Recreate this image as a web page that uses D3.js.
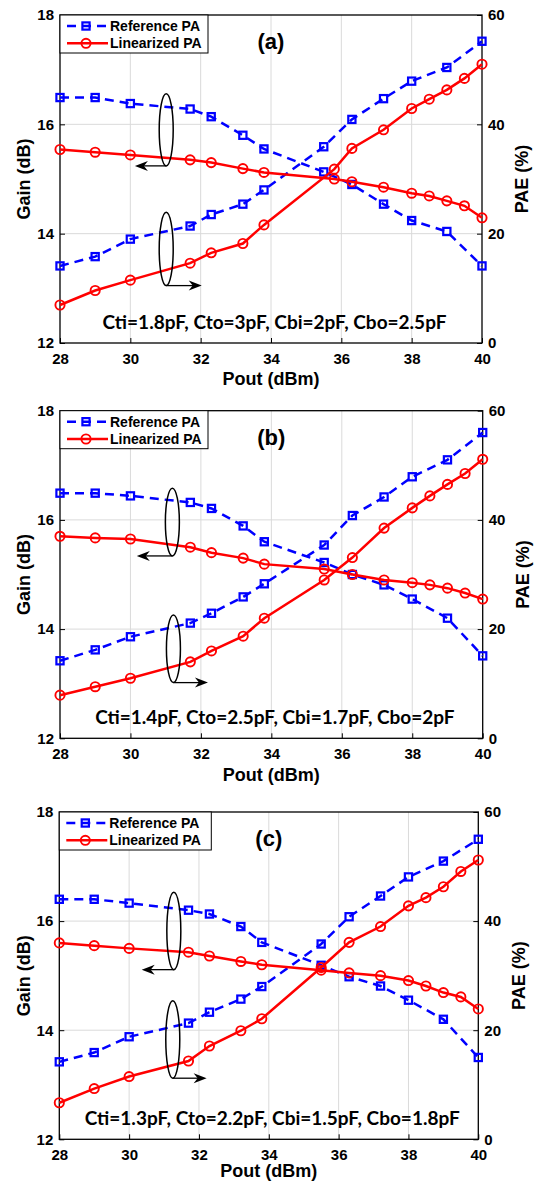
<!DOCTYPE html>
<html>
<head>
<meta charset="utf-8">
<script src="https://cdn.jsdelivr.net/npm/d3@7"></script>
<style>
  body { margin: 0; background: #fff; }
  svg text { font-family: "Liberation Sans", Arial, sans-serif; font-weight: bold; fill: #000; }
  .note { font-family: "Lato", "Open Sans", sans-serif; }
</style>
</head>
<body>
<svg id="chart" width="539" height="1186"></svg>
<script>
// Output power samples (dBm)
const poutRef  = [28, 29, 30, 31.7, 32.3, 33.2, 33.8, 35.5, 36.3, 37.2, 38, 39, 40];
const poutLinA = [28, 29, 30, 31.7, 32.3, 33.2, 33.8, 35.8, 36.3, 37.2, 38, 38.5, 39, 39.5, 40];
const poutLin  = [28, 29, 30, 31.7, 32.3, 33.2, 33.8, 35.5, 36.3, 37.2, 38, 38.5, 39, 39.5, 40];

// Panel (a)
const gainRefA = [16.49, 16.49, 16.38, 16.28, 16.14, 15.80, 15.55, 15.13, 14.90, 14.54, 14.24, 14.04, 13.41];
const paeRefA  = [14.1, 15.8, 19.0, 21.4, 23.5, 25.4, 28.0, 35.9, 40.9, 44.7, 47.9, 50.4, 55.2];
const gainLinA = [15.54, 15.49, 15.44, 15.35, 15.30, 15.19, 15.12, 15.00, 14.95, 14.85, 14.74, 14.69, 14.60, 14.51, 14.29];
const paeLinA  = [6.95, 9.6, 11.5, 14.6, 16.5, 18.2, 21.6, 31.8, 35.6, 39.0, 42.9, 44.6, 46.3, 48.4, 51.0];

// Panel (b)
const gainRefB = [16.49, 16.49, 16.44, 16.32, 16.21, 15.89, 15.60, 15.22, 15.00, 14.81, 14.55, 14.20, 13.51];
const paeRefB  = [14.2, 16.2, 18.6, 21.1, 22.9, 25.9, 28.3, 35.4, 40.8, 44.2, 47.9, 51.0, 56.0];
const gainLinB = [15.70, 15.67, 15.65, 15.50, 15.40, 15.30, 15.19, 15.10, 15.00, 14.90, 14.85, 14.81, 14.75, 14.66, 14.55];
const paeLinB  = [7.9, 9.45, 11.0, 14.0, 16.0, 18.7, 22.0, 29.0, 33.1, 38.5, 42.2, 44.4, 46.5, 48.5, 51.1];

// Panel (c)
const gainRefC = [16.40, 16.40, 16.33, 16.20, 16.13, 15.90, 15.61, 15.19, 14.98, 14.81, 14.55, 14.20, 13.50];
const paeRefC  = [14.2, 15.9, 18.8, 21.3, 23.3, 25.7, 28.0, 35.8, 40.8, 44.6, 48.1, 51.0, 55.0];
const gainLinC = [15.60, 15.55, 15.50, 15.43, 15.36, 15.26, 15.20, 15.10, 15.05, 15.00, 14.91, 14.81, 14.69, 14.61, 14.39];
const paeLinC  = [6.7, 9.3, 11.5, 14.35, 17.1, 19.9, 22.1, 31.5, 36.1, 39.0, 42.8, 44.3, 46.3, 49.1, 51.2];

// Tick values
const xTicks = [28, 30, 32, 34, 36, 38, 40];
const gainTicks = [12, 14, 16, 18];
const paeTicks = [0, 20, 40, 60];

// Text
const panelLabels = ["(a)", "(b)", "(c)"];
const notes = [
  "Cti=1.8pF, Cto=3pF, Cbi=2pF, Cbo=2.5pF",
  "Cti=1.4pF, Cto=2.5pF, Cbi=1.7pF, Cbo=2pF",
  "Cti=1.3pF, Cto=2.2pF, Cbi=1.5pF, Cbo=1.8pF"
];
const seriesNames = ["Reference PA", "Linearized PA"];

// Ellipse annotations [Pout, gain center, gain half-height, arrow tip Pout]
const ellipsesA = [[31.02, 15.90, 0.66, 30.13], [31.02, 13.72, 0.67, 32.03]];
const ellipsesB = [[31.19, 15.96, 0.62, 30.18], [31.22, 13.64, 0.62, 32.20]];
const ellipsesC = [[31.28, 15.82, 0.71, 30.36], [31.25, 13.83, 0.71, 32.22]];

// Layout for each panel (pixels)
const layout = [
  {left: 60,   right: 482,   top: 15,    bottom: 343,    titleGap: 36},
  {left: 60,   right: 482.7, top: 410.7, bottom: 738.3,  titleGap: 36},
  {left: 59.3, right: 478.3, top: 812,   bottom: 1139.3, titleGap: 31}
];

const panels = [
  {pl: poutLinA, gr: gainRefA, pr: paeRefA, gl: gainLinA, plae: paeLinA, ell: ellipsesA},
  {pl: poutLin,  gr: gainRefB, pr: paeRefB, gl: gainLinB, plae: paeLinB, ell: ellipsesB},
  {pl: poutLin,  gr: gainRefC, pr: paeRefC, gl: gainLinC, plae: paeLinC, ell: ellipsesC}
];

const blue = "#0000ff", red = "#ff0000";
const svg = d3.select("#chart");

function drawMarkers(g, pts, type, color) {
  if (type === "square") {
    g.selectAll(null).data(pts).join("rect")
      .attr("x", d => d[0] - 3.6).attr("y", d => d[1] - 3.6)
      .attr("width", 7.2).attr("height", 7.2)
      .attr("fill", "none").attr("stroke", color).attr("stroke-width", 2.2);
  } else {
    g.selectAll(null).data(pts).join("circle")
      .attr("cx", d => d[0]).attr("cy", d => d[1]).attr("r", 4.6)
      .attr("fill", "none").attr("stroke", color).attr("stroke-width", 1.9);
  }
}

panels.forEach((p, i) => {
  const L = layout[i];
  const x = d3.scaleLinear().domain([28, 40]).range([L.left, L.right]);
  const yG = d3.scaleLinear().domain([12, 18]).range([L.bottom, L.top]);
  const yP = d3.scaleLinear().domain([0, 60]).range([L.bottom, L.top]);
  const g = svg.append("g");

  // grid
  g.append("g").selectAll("line").data(xTicks.slice(1, -1)).join("line")
    .attr("x1", d => x(d)).attr("x2", d => x(d))
    .attr("y1", L.top).attr("y2", L.bottom)
    .attr("stroke", "#dadada").attr("stroke-width", 1);
  g.append("g").selectAll("line").data(gainTicks.slice(1, -1)).join("line")
    .attr("x1", L.left).attr("x2", L.right)
    .attr("y1", d => yG(d)).attr("y2", d => yG(d))
    .attr("stroke", "#dadada").attr("stroke-width", 1);

  // axes
  const fmt = d3.format("d");
  const axB = g.append("g").attr("transform", `translate(0,${L.bottom})`)
    .call(d3.axisBottom(x).tickValues(xTicks).tickFormat(fmt).tickSizeInner(-5).tickSizeOuter(0).tickPadding(10));
  const axL = g.append("g").attr("transform", `translate(${L.left},0)`)
    .call(d3.axisLeft(yG).tickValues(gainTicks).tickFormat(fmt).tickSizeInner(-5).tickSizeOuter(0).tickPadding(6));
  const axR = g.append("g").attr("transform", `translate(${L.right},0)`)
    .call(d3.axisRight(yP).tickValues(paeTicks).tickFormat(fmt).tickSizeInner(-5).tickSizeOuter(0).tickPadding(6));
  [axB, axL, axR].forEach(a => {
    a.select(".domain").remove();
    a.selectAll("text").attr("font-size", 15)
      .style("font-family", "Liberation Sans, Arial, sans-serif").style("font-weight", "bold");
    a.selectAll("line").attr("stroke", "#000");
  });

  // frame
  g.append("rect")
    .attr("x", L.left).attr("y", L.top)
    .attr("width", L.right - L.left).attr("height", L.bottom - L.top)
    .attr("fill", "none").attr("stroke", "#000").attr("stroke-width", 1.3);

  // series
  const refGain = d3.zip(poutRef, p.gr).map(d => [x(d[0]), yG(d[1])]);
  const refPae  = d3.zip(poutRef, p.pr).map(d => [x(d[0]), yP(d[1])]);
  const linGain = d3.zip(p.pl, p.gl).map(d => [x(d[0]), yG(d[1])]);
  const linPae  = d3.zip(p.pl, p.plae).map(d => [x(d[0]), yP(d[1])]);
  const line = d3.line();

  [refGain, refPae].forEach(pts => {
    g.append("path").attr("d", line(pts)).attr("fill", "none")
      .attr("stroke", blue).attr("stroke-width", 2.5).attr("stroke-dasharray", "9,6");
    drawMarkers(g, pts, "square", blue);
  });
  [linGain, linPae].forEach(pts => {
    g.append("path").attr("d", line(pts)).attr("fill", "none")
      .attr("stroke", red).attr("stroke-width", 2.5);
    drawMarkers(g, pts, "circle", red);
  });

  // ellipses with arrows
  p.ell.forEach(e => {
    const cx = x(e[0]), cy = yG(e[1]);
    const ry = yG(e[1] - e[2]) - cy;
    const by = cy + ry;
    const tip = x(e[3]);
    const dir = tip < cx ? -1 : 1;
    g.append("ellipse").attr("cx", cx).attr("cy", cy).attr("rx", 7).attr("ry", ry)
      .attr("fill", "none").attr("stroke", "#000").attr("stroke-width", 1.5);
    g.append("line").attr("x1", cx).attr("y1", by).attr("x2", tip - dir * 6).attr("y2", by)
      .attr("stroke", "#000").attr("stroke-width", 1.3);
    g.append("path")
      .attr("d", `M${tip},${by} L${tip - dir * 13},${by - 5} L${tip - dir * 9},${by} L${tip - dir * 13},${by + 5} Z`)
      .attr("fill", "#000");
  });

  // legend
  const lg = g.append("g").attr("transform", `translate(${L.left},${L.top})`);
  lg.append("rect").attr("width", i === 2 ? 152 : 148).attr("height", 38)
    .attr("fill", "#fff").attr("stroke", "#000").attr("stroke-width", 1);
  seriesNames.forEach((name, k) => {
    const ly = k === 0 ? 11 : 28.3;
    const color = k === 0 ? blue : red;
    lg.append("line").attr("x1", 7).attr("x2", 48).attr("y1", ly).attr("y2", ly)
      .attr("stroke", color).attr("stroke-width", 2.5)
      .attr("stroke-dasharray", k === 0 ? "9,6" : null);
    drawMarkers(lg, [[26, ly]], k === 0 ? "square" : "circle", color);
    lg.append("text").attr("x", 50).attr("y", ly).attr("dy", "0.36em")
      .attr("font-size", 14).text(name);
  });

  // panel label
  g.append("text").attr("x", x(34)).attr("y", yG(17.52)).attr("dy", "0.36em")
    .attr("text-anchor", "middle").attr("font-size", 22).text(panelLabels[i]);

  // capacitance note
  g.append("text").attr("class", "note")
    .attr("x", x(34.1)).attr("y", yG(12.38)).attr("dy", "0.36em")
    .attr("text-anchor", "middle").attr("font-size", 19).text(notes[i]);

  // axis titles
  g.append("text").attr("x", (L.left + L.right) / 2).attr("y", L.bottom + L.titleGap)
    .attr("dy", "0.36em").attr("text-anchor", "middle").attr("font-size", 18).text("Pout (dBm)");
  const midY = (L.top + L.bottom) / 2;
  g.append("text").attr("transform", `translate(24,${midY}) rotate(-90)`)
    .attr("dy", "0.36em").attr("text-anchor", "middle").attr("font-size", 18).text("Gain (dB)");
  g.append("text").attr("transform", `translate(${L.right + 40},${midY}) rotate(-90)`)
    .attr("dy", "0.36em").attr("text-anchor", "middle").attr("font-size", 18).text("PAE (%)");
});
</script>
</body>
</html>
